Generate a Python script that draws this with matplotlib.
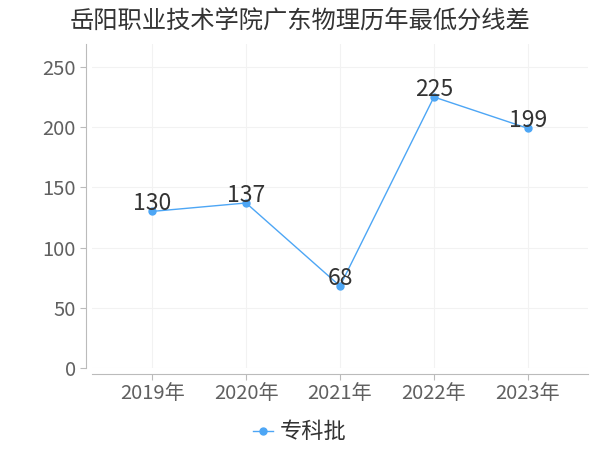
import matplotlib
matplotlib.use("Agg")
import matplotlib.pyplot as plt

plt.rcParams['font.family'] = ['Noto Sans CJK SC', 'DejaVu Sans']

# data
years = ["2019年", "2020年", "2021年", "2022年", "2023年"]
scores = [130, 137, 68, 225, 199]
series_name = "专科批"
title = "岳阳职业技术学院广东物理历年最低分线差"

line_color = "#4da6f5"

fig = plt.figure(figsize=(6, 4.5), dpi=100)
ax = fig.add_axes([92/600, 1 - 368/450, 496/600, 324/450])

x = list(range(len(years)))
ax.plot(x, scores, color=line_color, linewidth=1, marker="o", markersize=5,
        label=series_name)

# value labels
for xi, v in zip(x, scores):
    ax.text(xi, v - 3, str(v), ha="center", va="bottom", fontsize=16.5, color="#333333")

ax.set_xlim(-0.64, 4.64)
ax.set_ylim(0, 269)
ax.set_xticks(x)
ax.set_xticklabels(years)
ax.set_yticks([0, 50, 100, 150, 200, 250])

ax.grid(True, color="#f2f2f2", linewidth=0.8)
ax.set_axisbelow(True)

for s in ["top", "right"]:
    ax.spines[s].set_visible(False)
ax.spines["left"].set_position(("outward", 4))
ax.spines["bottom"].set_position(("outward", 4))
ax.spines["left"].set_color("#bbbbbb")
ax.spines["bottom"].set_color("#bbbbbb")
ax.tick_params(axis="both", colors="#bbbbbb", labelcolor="#606060", labelsize=14.5, length=4)
ax.tick_params(axis="x", pad=3)

fig.text(0.5, 0.955, title, ha="center", va="center", fontsize=17.5, color="#333333")

fig.legend(loc="center", bbox_to_anchor=(0.5, 0.04), frameon=False, fontsize=16,
           handlelength=0.9, handletextpad=0.3, labelcolor="#333333")

plt.savefig("out.png")
